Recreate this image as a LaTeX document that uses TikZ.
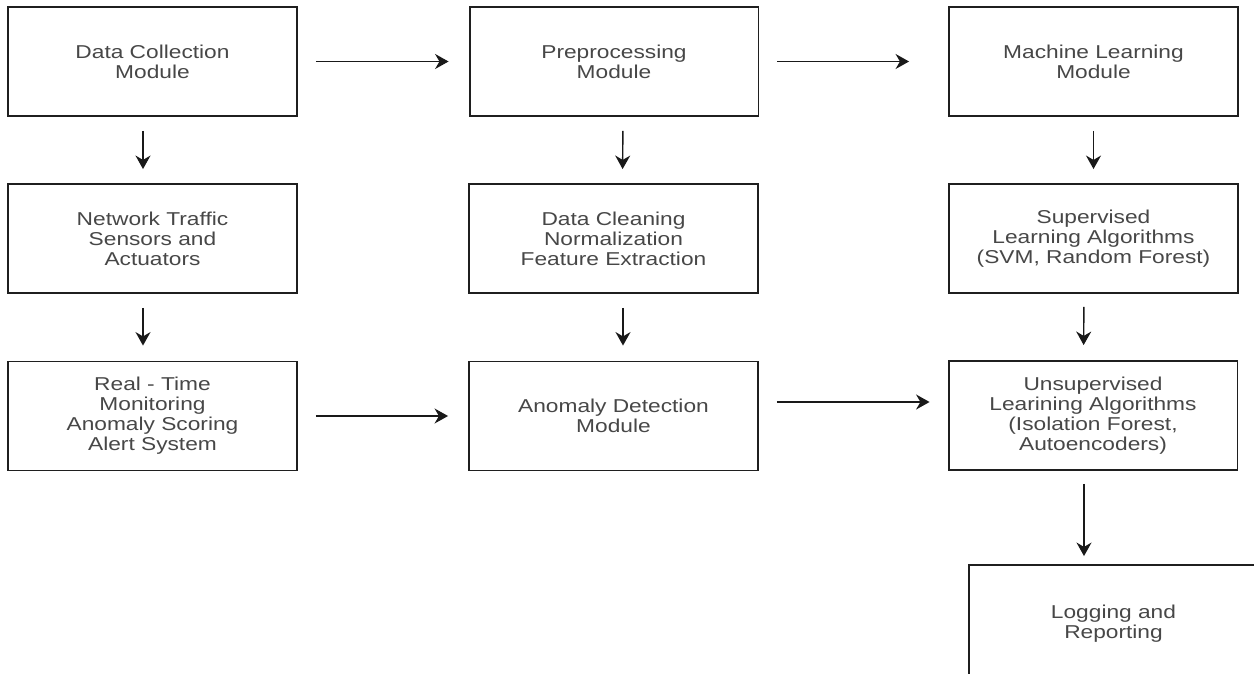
\documentclass[tikz,border=0pt]{standalone}
\usepackage{fontspec}
\setmainfont[FakeStretch=1.22]{Liberation Sans}
\usetikzlibrary{arrows.meta}

\begin{document}
\begin{tikzpicture}[x=0.02cm, y=-0.02cm, >={Stealth[length=0.27cm,width=0.3cm]},
  every node/.style={font=\fontsize{10.6}{11.4}\selectfont, text=black!72},
  module/.style={draw=black!88, line width=1.1pt, rectangle, align=center,
    minimum width=5.78cm, minimum height=2.18cm, inner sep=0pt},
  flow/.style={->, line width=0.8pt, black!90}]
\useasboundingbox (0,0) rectangle (1254,673);
\clip (0,0) rectangle (1254,673);
\fill[white] (0,0) rectangle (1254,673);
\node[module] (dc) at (152.5,61.5) {Data Collection\\Module};
\node[module] (pre) at (614,61.5) {Preprocessing\\Module};
\node[module] (ml) at (1093.5,61.5) {Machine Learning\\Module};
\node[module] (net) at (152.5,238.5) {Network Traffic\\Sensors and\\Actuators};
\node[module] (clean) at (613.5,238.5) {Data Cleaning\\Normalization\\Feature Extraction};
\node[module] (sup) at (1093.5,238.5) {Supervised\\Learning Algorithms\\(SVM, Random Forest)};
\node[module] (rt) at (152.5,416) {Real - Time\\Monitoring\\Anomaly Scoring\\Alert System};
\node[module] (ad) at (613.5,416) {Anomaly Detection\\Module};
\node[module] (unsup) at (1093,415.5) {Unsupervised\\Learining Algorithms\\(Isolation Forest,\\Autoencoders)};
\node[module, minimum height=2.34cm] (log) at (1113.5,623.5) {Logging and\\Reporting};
\draw[flow, shorten <=0.36cm, shorten >=0.4cm] (dc) -- (pre);
\draw[flow, shorten <=0.36cm, shorten >=0.78cm] (pre) -- (ml);
\draw[flow, shorten <=0.36cm, shorten >=0.4cm] (rt) -- (ad);
\draw[flow, shorten <=0.36cm, shorten >=0.36cm] ([yshift=0.28cm]ad.east) -- ([yshift=0.28cm]ad.east -| unsup.west);
\draw[flow, shorten <=0.28cm, shorten >=0.28cm] ([xshift=-0.19cm]dc.south) -- ([xshift=-0.19cm]net.north);
\draw[flow, shorten <=0.28cm, shorten >=0.3cm] ([xshift=-0.19cm]net.south) -- ([xshift=-0.19cm]rt.north);
\draw[flow, shorten <=0.28cm, shorten >=0.28cm] ([xshift=0.18cm]pre.south) -- ([xshift=0.18cm]clean.north);
\draw[flow, shorten <=0.28cm, shorten >=0.3cm] ([xshift=0.19cm]clean.south) -- ([xshift=0.19cm]ad.north);
\draw[flow, shorten <=0.28cm, shorten >=0.28cm] (ml) -- (sup);
\draw[flow, shorten <=0.26cm, shorten >=0.3cm] ([xshift=-0.19cm]sup.south) -- ([xshift=-0.19cm]unsup.north);
\draw[flow, shorten <=0.26cm, shorten >=0.16cm] ([xshift=-0.18cm]unsup.south) -- ([xshift=-0.18cm]unsup.south |- log.north);
\end{tikzpicture}
\end{document}
